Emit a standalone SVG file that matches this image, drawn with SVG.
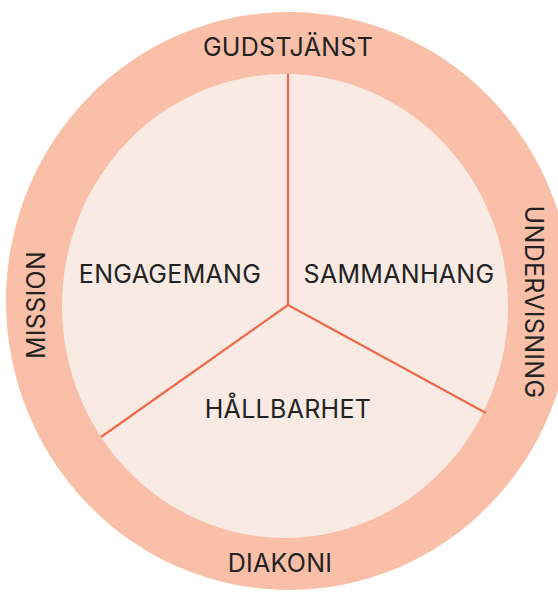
<svg xmlns="http://www.w3.org/2000/svg" width="558" height="592" viewBox="0 0 558 592">
<style>
.lbl{font-family:Inter,"Liberation Sans",sans-serif;font-size:25px;letter-spacing:0.3px;fill:#222222;text-anchor:middle}
.spoke{stroke:#F0694A;stroke-width:2.2;fill:none}
</style>
<rect width="558" height="592" fill="#ffffff"/>
<g id="outer-ring">
<ellipse cx="289" cy="301" rx="283" ry="289" fill="#F9BFA8"/>
<text class="lbl" x="288" y="56">GUDSTJÄNST</text>
<text class="lbl" x="280" y="572">DIAKONI</text>
<text class="lbl" transform="translate(45,305) rotate(-90)">MISSION</text>
<text class="lbl" transform="translate(525,302) rotate(90)">UNDERVISNING</text>
</g>
<g id="inner-circle">
<ellipse cx="285" cy="306" rx="223" ry="232" fill="#F9EAE4"/>
</g>
<g id="connectors">
<line class="spoke" x1="288" y1="74" x2="288" y2="305"/>
<line class="spoke" x1="288" y1="305" x2="486" y2="413"/>
<line class="spoke" x1="288" y1="305" x2="101" y2="437"/>
</g>
<g id="engagemang"><text class="lbl" x="170" y="283">ENGAGEMANG</text></g>
<g id="sammanhang"><text class="lbl" x="399" y="283">SAMMANHANG</text></g>
<g id="hallbarhet"><text class="lbl" x="288" y="418">HÅLLBARHET</text></g>
</svg>
